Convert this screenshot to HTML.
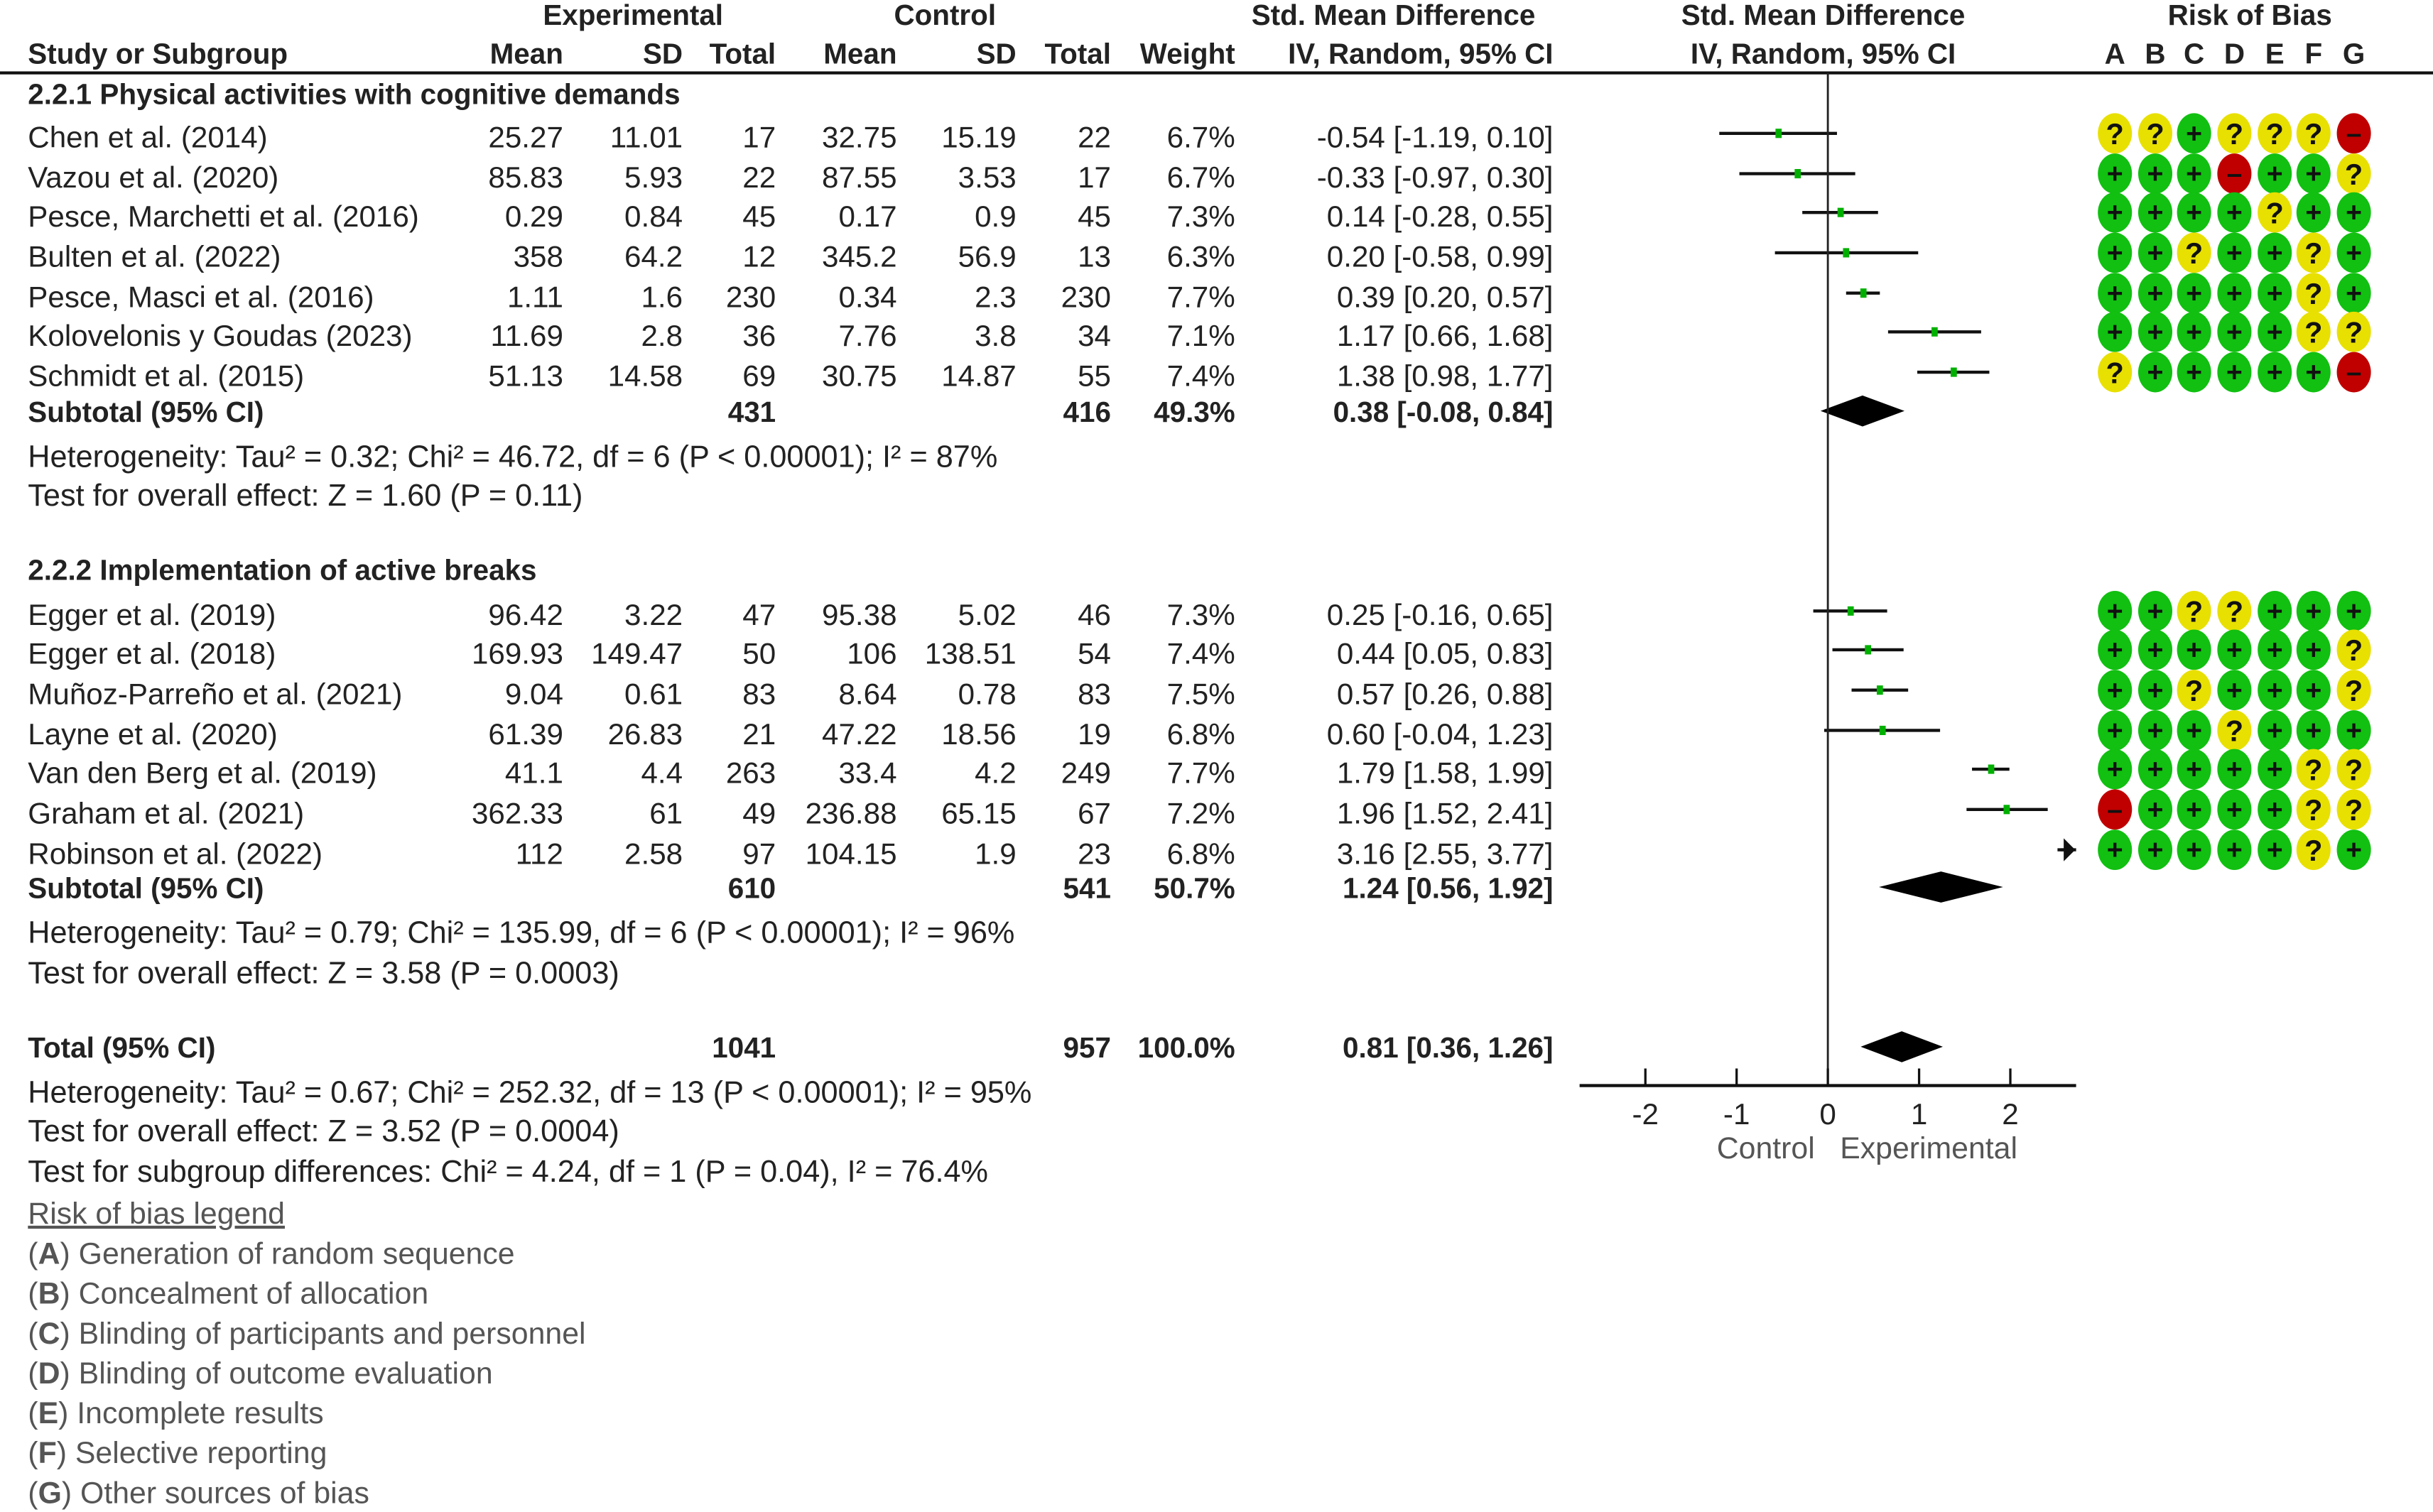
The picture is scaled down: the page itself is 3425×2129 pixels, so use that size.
<!DOCTYPE html>
<html><head><meta charset="utf-8"><style>
html,body{margin:0;padding:0;background:#fff;}
svg{display:block;}
text{font-family:"Liberation Sans",sans-serif;fill:#222;font-size:19.3px;}
.b{font-weight:bold;font-size:18.5px;}
.g{fill:#555;font-size:19.6px;}
</style></head><body>
<svg id="chart" width="3425" height="2129" viewBox="0 0 1568 975" preserveAspectRatio="none" xmlns="http://www.w3.org/2000/svg"></svg>
<script>
const studies1 = ["Chen et al. (2014)","Vazou et al. (2020)","Pesce, Marchetti et al. (2016)","Bulten et al. (2022)","Pesce, Masci et al. (2016)","Kolovelonis y Goudas (2023)","Schmidt et al. (2015)"];
const studies2 = ["Egger et al. (2019)","Egger et al. (2018)","Muñoz-Parreño et al. (2021)","Layne et al. (2020)","Van den Berg et al. (2019)","Graham et al. (2021)","Robinson et al. (2022)"];
const expMean = ["25.27","85.83","0.29","358","1.11","11.69","51.13","96.42","169.93","9.04","61.39","41.1","362.33","112"];
const expSD = ["11.01","5.93","0.84","64.2","1.6","2.8","14.58","3.22","149.47","0.61","26.83","4.4","61","2.58"];
const expN = [17,22,45,12,230,36,69,47,50,83,21,263,49,97];
const ctlMean = ["32.75","87.55","0.17","345.2","0.34","7.76","30.75","95.38","106","8.64","47.22","33.4","236.88","104.15"];
const ctlSD = ["15.19","3.53","0.9","56.9","2.3","3.8","14.87","5.02","138.51","0.78","18.56","4.2","65.15","1.9"];
const ctlN = [22,17,45,13,230,34,55,46,54,83,19,249,67,23];
const weights = ["6.7%","6.7%","7.3%","6.3%","7.7%","7.1%","7.4%","7.3%","7.4%","7.5%","6.8%","7.7%","7.2%","6.8%"];
const smd = [-0.54,-0.33,0.14,0.20,0.39,1.17,1.38,0.25,0.44,0.57,0.60,1.79,1.96,3.16];
const lo = [-1.19,-0.97,-0.28,-0.58,0.20,0.66,0.98,-0.16,0.05,0.26,-0.04,1.58,1.52,2.55];
const hi = [0.10,0.30,0.55,0.99,0.57,1.68,1.77,0.65,0.83,0.88,1.23,1.99,2.41,3.77];
const rob = ["??+???-","+++-++?","++++?++","++?++?+","+++++?+","+++++??","?+++++-",
             "++??+++","++++++?","++?+++?","+++?+++","+++++??","-++++??","+++++?+"];
const pooled = [[0.38,-0.08,0.84],[1.24,0.56,1.92],[0.81,0.36,1.26]];
const ticks = [-2,-1,0,1,2];

const svg=document.getElementById('chart');
const NS='http://www.w3.org/2000/svg';
function mk(tag,attrs,parent){const e=document.createElementNS(NS,tag);for(const k in attrs)e.setAttribute(k,attrs[k]);(parent||svg).appendChild(e);return e;}
function txt(x,y,s,anchor,cls,name){const t=mk('text',{x:x,y:y,'text-anchor':anchor||'start'});if(cls)t.setAttribute('class',cls);t.textContent=s;


return t;}
const X0=1178, U=58.8, XMIN=1018, XMAX=1338;
function xs(v){return X0+U*v;}
const rowY1=[89,115,140,166,192,217,243], rowY2=[397,422,448,474,499,525,551];
const rowY=rowY1.concat(rowY2);
const colR=[363,440,500,578,655,716,796,1001];

txt(408,16,'Experimental','middle','b','header-experimental');
txt(609,16,'Control','middle','b','header-control');
txt(898,16,'Std. Mean Difference','middle','b','header-smd');
txt(1175,16,'Std. Mean Difference','middle','b','header-smd-plot');
txt(1450,16,'Risk of Bias','middle','b','header-risk-of-bias');
txt(18,41,'Study or Subgroup','start','b','header-study');
['Mean','SD','Total','Mean','SD','Total','Weight','IV, Random, 95% CI'].forEach((h,i)=>txt(colR[i],41,h,'end','b','header-col'));
txt(1175,41,'IV, Random, 95% CI','middle','b','header-plot-method');
const letters=['A','B','C','D','E','F','G'];
const robX=[1363,1389,1414,1440,1466,1491,1517];
letters.forEach((l,i)=>txt(robX[i],41,l,'middle','b','rob-col-letter'));
const hl=mk('line',{x1:0,y1:47,x2:1568,y2:47,stroke:'#111','stroke-width':2});



txt(18,67,'2.2.1 Physical activities with cognitive demands','start','b','subgroup-1-title');
txt(18,374,'2.2.2 Implementation of active breaks','start','b','subgroup-2-title');

const names=studies1.concat(studies2);
names.forEach((n,i)=>{
  const y=rowY[i]+6;
  txt(18,y,n,'start',null,'study-name');
  const vals=[expMean[i],expSD[i],expN[i],ctlMean[i],ctlSD[i],ctlN[i],weights[i],
    smd[i].toFixed(2)+' ['+lo[i].toFixed(2)+', '+hi[i].toFixed(2)+']'];
  vals.forEach((v,j)=>txt(colR[j],y,String(v),'end',null,'study-value'));
  const cy=rowY[i]-3;
  const a=Math.max(XMIN,xs(lo[i])), b=Math.min(XMAX,xs(hi[i]));
  if(b>a){const l=mk('line',{x1:a,y1:cy,x2:b,y2:cy,stroke:'#111','stroke-width':2});
    
    }
  if(xs(smd[i])<=XMAX){const r=mk('rect',{x:xs(smd[i])-2,y:cy-3,width:4,height:6,fill:'#00b000'});
    
    }
  else{const ar=mk('path',{d:`M${XMAX-12} ${cy} L${XMAX-3} ${cy} M${XMAX-7} ${cy-5} L${XMAX-2} ${cy} L${XMAX-7} ${cy+5} Z`,stroke:'#111','stroke-width':2,fill:'#111'});
    
    }
  rob[i].split('').forEach((c,k)=>{
    const col=c==='+'?'#11c011':c==='?'?'#e8e000':'#c00000';
    const e=mk('ellipse',{cx:robX[k],cy:cy,rx:11,ry:13,fill:col});
    
    
    const s=mk('text',{x:robX[k],y:cy+(c==='?'?7:6),'text-anchor':'middle',style:'font-weight:bold;font-size:'+(c==='?'?'19px':'18px')+';fill:#111'});
    s.textContent=c==='-'?'–':c;
    
    
  });
});

const subRows=[[266,'Subtotal (95% CI)',431,416,'49.3%'],[573,'Subtotal (95% CI)',610,541,'50.7%'],[676,'Total (95% CI)',1041,957,'100.0%']];
subRows.forEach((s,i)=>{
  const y=s[0]+6;
  txt(18,y,s[1],'start','b','pooled-label');
  txt(500,y,String(s[2]),'end','b','pooled-exp-total');
  txt(716,y,String(s[3]),'end','b','pooled-ctl-total');
  txt(796,y,s[4],'end','b','pooled-weight');
  const p=pooled[i];
  txt(1001,y,p[0].toFixed(2)+' ['+p[1].toFixed(2)+', '+p[2].toFixed(2)+']','end','b','pooled-ci');
  const cy=s[0]-1;
  const d=mk('polygon',{points:`${xs(p[1])},${cy} ${xs(p[0])},${cy-10} ${xs(p[2])},${cy} ${xs(p[0])},${cy+10}`,fill:'#000'});
  
  
});

const notes=[[301,'Heterogeneity: Tau² = 0.32; Chi² = 46.72, df = 6 (P < 0.00001); I² = 87%'],
[326,'Test for overall effect: Z = 1.60 (P = 0.11)'],
[608,'Heterogeneity: Tau² = 0.79; Chi² = 135.99, df = 6 (P < 0.00001); I² = 96%'],
[634,'Test for overall effect: Z = 3.58 (P = 0.0003)'],
[711,'Heterogeneity: Tau² = 0.67; Chi² = 252.32, df = 13 (P < 0.00001); I² = 95%'],
[736,'Test for overall effect: Z = 3.52 (P = 0.0004)'],
[762,'Test for subgroup differences: Chi² = 4.24, df = 1 (P = 0.04), I² = 76.4%']];
notes.forEach(n=>{const t=txt(18,n[0],n[1],'start',null,'statistics-note');t.style.fontSize='19.8px';});

const lg=txt(18,789,'Risk of bias legend','start','g','rob-legend-title');
lg.setAttribute('text-decoration','underline');
const legItems=['Generation of random sequence','Concealment of allocation','Blinding of participants and personnel','Blinding of outcome evaluation','Incomplete results','Selective reporting','Other sources of bias'];
legItems.forEach((s,i)=>{
  const t=mk('text',{x:18,y:815+i*25.7,class:'g'});
  
  
  t.innerHTML='(<tspan font-weight="bold">'+letters[i]+'</tspan>) '+s;
});

const zl=mk('line',{x1:X0,y1:47,x2:X0,y2:700,stroke:'#222','stroke-width':1.3});


const ax=mk('line',{x1:XMIN,y1:700,x2:XMAX,y2:700,stroke:'#111','stroke-width':2});


ticks.forEach(v=>{
  const tl=mk('line',{x1:xs(v),y1:689,x2:xs(v),y2:700,stroke:'#111','stroke-width':1.5});
  
  
  txt(xs(v),725,String(v),'middle',null,'x-tick-label');
});
txt(1138,747,'Control','middle','g','favours-control-label');
txt(1243,747,'Experimental','middle','g','favours-experimental-label');
</script>
</body></html>
